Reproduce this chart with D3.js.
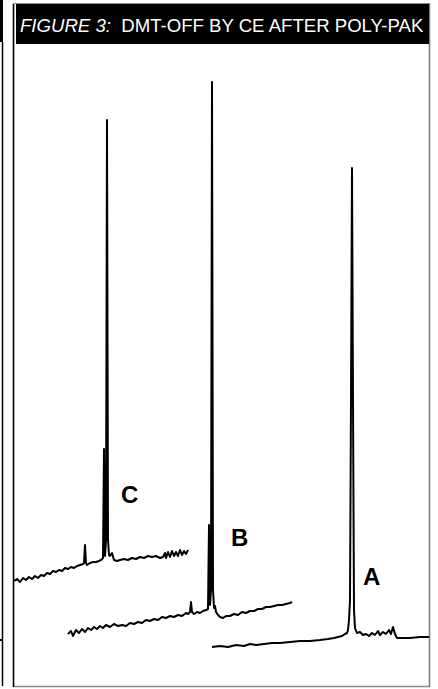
<!DOCTYPE html>
<html>
<head>
<meta charset="utf-8">
<script src="https://cdn.jsdelivr.net/npm/d3@7"></script>
<style>
  html, body { margin: 0; padding: 0; background: #fff; }
  svg { display: block; }
</style>
</head>
<body>
<svg id="chart" width="438" height="689"></svg>
<script>
// ---- DATA (run time in min, detector signal in arbitrary units) ----
const title = "FIGURE 3:";
const subtitle = "DMT-OFF BY CE AFTER POLY-PAK";
const traceLabels = ["A", "B", "C"];

const timeC = [0,0.3,0.6,0.9,1.2,1.5,1.8,2.1,2.4,2.7,3.0,3.3,3.6,3.9,4.2,4.5,4.8,5.1,5.4,5.7,6.0,6.3,6.6,6.9,7.0,7.1,7.2,7.3,7.6,7.9,8.2,8.5,8.7,8.9,9.0,9.1,9.2,9.3,9.4,9.5,9.6,9.8,10.0,10.3,10.6,11.0,11.4,11.8,12.2,12.6,13.0,13.4,13.8,14.2,14.6,14.9,15.1,15.2,15.4,15.6,15.8,16.0,16.2,16.4,16.6,16.8,17.0,17.2,17.4];
const signalC = [0,1,-0.5,1.5,0.5,2,1,2.5,1.5,3,2.5,4,3.5,5,4.5,5.5,5,6.5,6,7,6.5,7.5,8,8.5,9,18,9,8,9,9.5,9.5,10,10.5,11.5,66,12.5,20.5,230.5,20.5,13,12.5,14,10.5,10,10.5,11,10.5,11.5,11,12,11.5,12.5,12,12.5,11.5,12,14,11.5,14.5,12,15,12.5,14.5,12.5,15.5,13,15,13.5,15.5];

const timeB = [0,0.3,0.5,0.8,1.1,1.4,1.7,2.0,2.3,2.6,2.9,3.2,3.5,3.8,4.2,4.6,5.0,5.4,5.8,6.2,6.6,7.0,7.4,7.8,8.2,8.6,9.0,9.4,9.8,10.2,10.6,11.0,11.4,11.8,12.0,12.2,12.3,12.4,12.6,12.9,13.2,13.5,13.8,14.0,14.1,14.2,14.3,14.4,14.5,14.6,14.7,14.8,15.0,15.2,15.5,15.8,16.2,16.6,17.0,17.4,17.8,18.2,18.6,19.0,19.4,19.8,20.2,20.6,21.0,21.4,21.8,22.2,22.4];
const signalB = [0,1.5,-1,2,0.5,2.5,1,3,2,3.5,2.5,4,3,4.5,3.5,5,4,4.5,4,5.5,5,6,5.5,7,6.5,7.5,7,8.5,8,9,8.5,9.5,9,10.5,10,11,16,11,10,11,10.5,11.5,12,12.5,54.5,14.5,22,276,22,13,14,11,9.5,8.5,8,9,9,10,9.5,11,10.5,11.5,11.5,12.5,12.5,13.5,13.5,14,14.5,14.5,15,15.5,16];

const timeA = [0,0.8,1.6,2.4,3.2,3.8,4.4,5.2,6.0,6.8,7.8,8.8,9.8,10.8,11.6,12.2,12.6,13.0,13.3,13.5,13.6,13.7,13.8,13.9,14.0,14.1,14.2,14.3,14.5,14.8,15.1,15.4,15.7,16.0,16.3,16.6,16.8,17.1,17.4,17.7,17.9,18.1,18.3,18.5,19.1,19.8,20.8,21.7];
const signalA = [0,0.5,0,1,0.5,1.5,1,1.5,2,2,2.5,3,3,3.5,4,4.5,5,5.5,6.5,7,8.5,13.5,23.5,123.5,239.5,123.5,18.5,9.5,7,7.5,6,6.5,5.5,7,6,8,6,7.5,6.5,8.5,6.5,10,6.5,4.5,4.5,4.5,5,5];

// ---- LAYOUT ----
const svg = d3.select("#chart");

const x = d3.scaleLinear().domain([0, 10]).range([0, 100]);
const y = d3.scaleLinear().domain([0, 100]).range([0, -200]);

// frame
const frame = svg.append("g");
frame.append("rect").attr("x", 0).attr("y", 0).attr("width", 3).attr("height", 42).attr("fill", "#000");
frame.append("line").attr("x1", 2.5).attr("x2", 2.5).attr("y1", 42).attr("y2", 686).attr("stroke", "#000").attr("stroke-width", 1.5);
frame.append("rect").attr("x", 0).attr("y", 639).attr("width", 3).attr("height", 2).attr("fill", "#000");
frame.append("line").attr("x1", 13).attr("x2", 430).attr("y1", 3.5).attr("y2", 3.5).attr("stroke", "#8a8a8a").attr("stroke-width", 1);
frame.append("line").attr("x1", 13).attr("x2", 430).attr("y1", 686.5).attr("y2", 686.5).attr("stroke", "#8a8a8a").attr("stroke-width", 1.5);
frame.append("line").attr("x1", 429.5).attr("x2", 429.5).attr("y1", 3).attr("y2", 687).attr("stroke", "#7a7a7a").attr("stroke-width", 1.5);
frame.append("line").attr("x1", 13.5).attr("x2", 13.5).attr("y1", 4).attr("y2", 687).attr("stroke", "#000").attr("stroke-width", 1.6);

// header
frame.append("rect").attr("x", 16).attr("y", 4).attr("width", 413).attr("height", 40).attr("fill", "#000");
const ttl = frame.append("text").attr("x", 20).attr("y", 31.5)
  .attr("fill", "#fff")
  .style("font-family", "'Liberation Sans', Arial, sans-serif")
  .style("font-size", "18.6px")
  .attr("xml:space", "preserve");
ttl.append("tspan").style("font-style", "italic").text(title);
ttl.append("tspan").text("  " + subtitle);

// traces
const traces = [
  { name: "C", t: timeC, s: signalC, ox: 14, oy: 581, lx: 121, ly: 503 },
  { name: "B", t: timeB, s: signalB, ox: 68, oy: 634, lx: 231, ly: 546 },
  { name: "A", t: timeA, s: signalA, ox: 212, oy: 647, lx: 363, ly: 585 }
];

const g = svg.append("g");
traces.forEach(tr => {
  const pts = tr.t.map((t, i) => ({ t, s: tr.s[i] }));
  const line = d3.line().x(d => tr.ox + x(d.t)).y(d => tr.oy + y(d.s));
  g.append("path").datum(pts).attr("d", line)
    .attr("fill", "none").attr("stroke", "#000")
    .attr("stroke-width", 2).attr("stroke-linejoin", "round");
  g.append("text").attr("x", tr.lx).attr("y", tr.ly)
    .style("font-family", "'Liberation Sans', Arial, sans-serif")
    .style("font-size", "24px").style("font-weight", "bold")
    .attr("fill", "#000").text(tr.name);
});
</script>
</body>
</html>
